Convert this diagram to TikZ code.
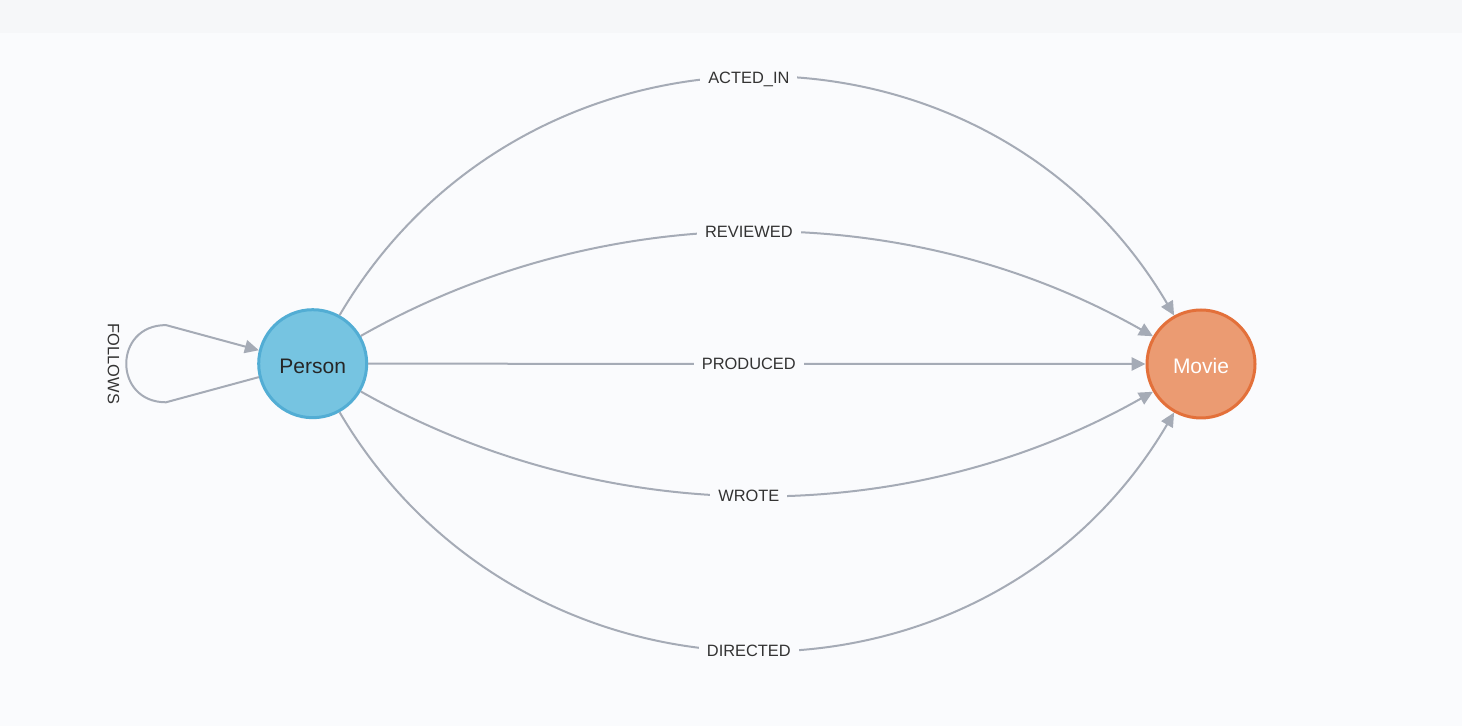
\documentclass[tikz,border=0pt]{standalone}
\usepackage{fontspec}
\setmainfont{Liberation Sans}
\usetikzlibrary{arrows.meta}
\definecolor{bgmain}{HTML}{FAFBFD}
\definecolor{bgtop}{HTML}{F6F7F9}
\definecolor{edgecol}{HTML}{A5ABB6}
\definecolor{personfill}{HTML}{76C4E1}
\definecolor{persondraw}{HTML}{52ADD4}
\definecolor{moviefill}{HTML}{EB9B72}
\definecolor{moviedraw}{HTML}{E3703A}
\definecolor{labeltext}{HTML}{333333}
\begin{document}
\begin{tikzpicture}[x=0.5pt,y=-0.5pt,
  nodecircle/.style={circle,inner sep=0pt,minimum size=54pt,line width=1.5pt,text height=10pt,text depth=0pt,font=\fontsize{10.5}{12}\selectfont},
  personnode/.style={nodecircle,fill=personfill,draw=persondraw,text=black!85},
  movienode/.style={nodecircle,fill=moviefill,draw=moviedraw,text=white},
  rel/.style={draw=edgecol,line width=1pt,-{Triangle[length=7pt,width=6.6pt]}},
  rellabel/.style={fill=bgmain,inner xsep=4pt,inner ysep=2pt,text height=5.9pt,text depth=0pt,text=labeltext,font=\fontsize{8.2}{10}\selectfont,xshift=-4pt}]
\useasboundingbox (0,0) rectangle (1462,726);
\fill[bgmain] (0,0) rectangle (1462,726);
\fill[bgtop] (0,0) rectangle (1462,33);

\node[personnode] (P) at (312.7,363.7) {Person};
\node[movienode] (M) at (1201,364) {Movie};

\draw[rel] (P.61) .. controls +(186.5,-317) and +(-186.5,-317) .. (M.119)
  node[rellabel,pos=0.5] (lacted) {ACTED\_IN};
\draw[rel] (P.30) .. controls +(244.5,-138.7) and +(-244.5,-138.7) .. (M.150)
  node[rellabel,pos=0.5] (lrev) {REVIEWED};
\draw[rel] (P.east) -- (M.west)
  node[rellabel,pos=0.5] (lprod) {PRODUCED};
\draw[rel] (P.-30) .. controls +(244.5,138.7) and +(-244.5,138.7) .. (M.210)
  node[rellabel,pos=0.5] (lwrote) {WROTE};
\draw[rel] (P.-61) .. controls +(186.5,317) and +(-186.5,317) .. (M.241)
  node[rellabel,pos=0.5] (ldir) {DIRECTED};

\coordinate (lb) at (166,402.3);
\coordinate (lt) at (166,325.1);
\draw[rel] (P.194) -- (lb) .. controls (113,402.3) and (113,325.1) .. (lt) -- (P.166);
\node[rotate=-90,text=labeltext,font=\fontsize{8.2}{10}\selectfont,inner sep=0pt] (lfol) at (113.4,364) {FOLLOWS};
\end{tikzpicture}
\end{document}
